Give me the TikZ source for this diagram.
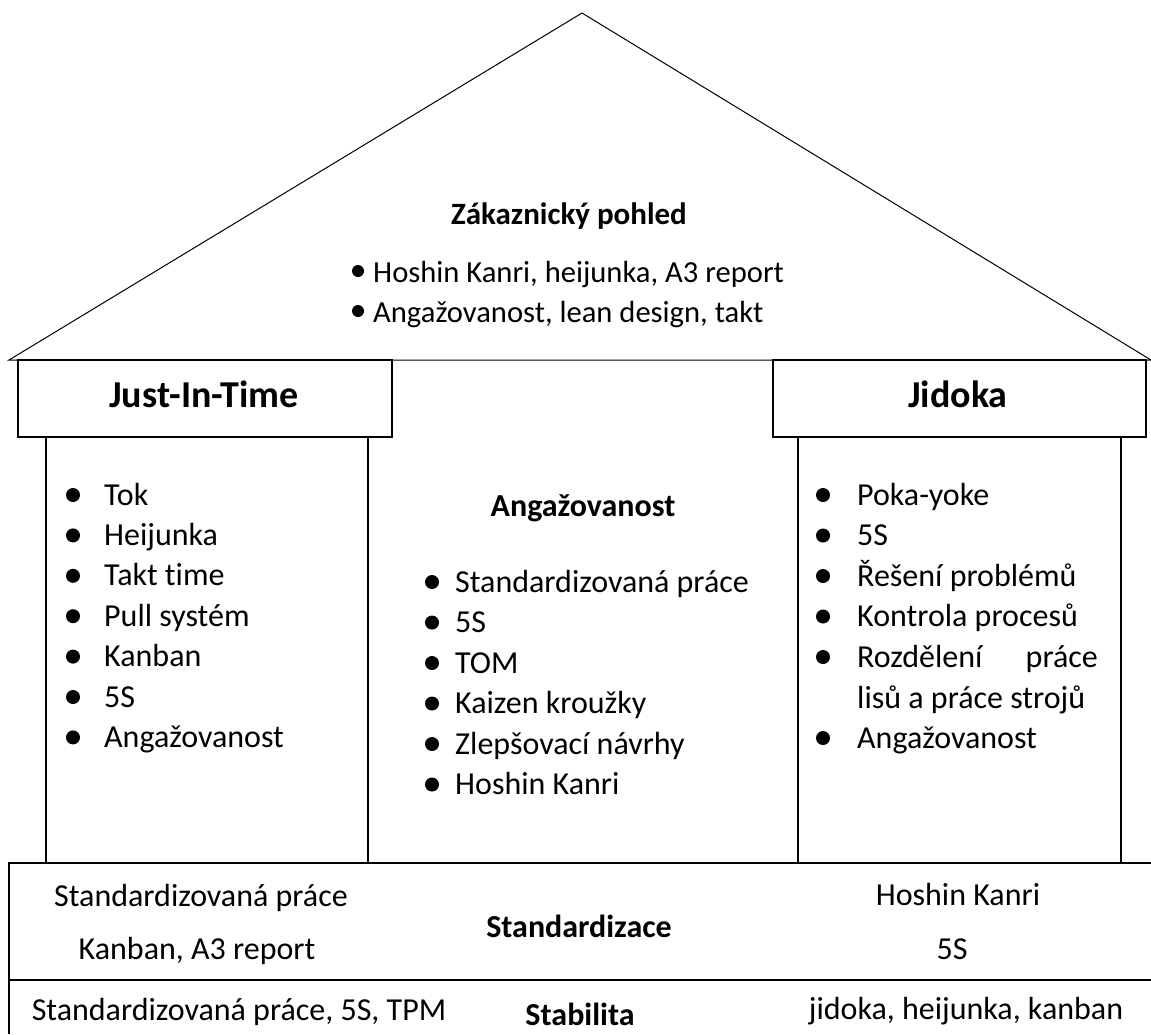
\documentclass[tikz,border=0pt]{standalone}
\usepackage{fontspec}
\setmainfont{Carlito}[Ligatures=NoCommon]
\usepackage{tikz}
\newcommand{\listfont}{\fontsize{32}{38}\selectfont}
\newcommand{\rooffont}{\fontsize{30.6}{36}\selectfont}
\newcommand{\capfont}{\fontsize{32}{38}\selectfont\bfseries}
\newcommand{\pillarfont}{\fontsize{38}{44}\selectfont\bfseries}
\tikzset{
    frame/.style={line width=1.3pt},
    roofline/.style={line width=1pt},
    item/.style={anchor=base west, inner sep=0pt, font=\listfont},
    centred/.style={anchor=base, inner sep=0pt, font=\listfont},
    head/.style={anchor=base, inner sep=0pt, font=\capfont},
    pillarhead/.style={anchor=base, inner sep=0pt, font=\pillarfont}
}

\begin{document}
\begin{tikzpicture}[x=1pt, y=-1pt]
    \useasboundingbox (0,0) rectangle (1151,1034);
    % roof
    \draw[roofline] (9,360) -- (582,13) -- (1151,360) -- cycle;
    \node[head, font=\fontsize{31}{36}\selectfont\bfseries] (roof) at (569,224) {Zákaznický pohled};
    \foreach \txt [count=\i from 0] in {{Hoshin Kanri, heijunka, A3 report}, {Angažovanost, lean design, takt}} {
        \fill (358,{282+40*\i-11}) circle (6pt);
        \node[item, font=\rooffont] (roof\i) at (373,{282+40*\i}) {\txt};
    }
    % pillar heads and columns
    \draw[frame] (18,360) rectangle (392,437);
    \draw[frame] (773,360) rectangle (1146,437);
    \node[pillarhead] (jit) at (204,407) {Just-In-Time};
    \node[pillarhead] (jidoka) at (958,407) {Jidoka};
    \draw[frame] (46,437) rectangle (368,863);
    \draw[frame] (798,437) rectangle (1121,863);
    % left pillar
    \foreach \txt [count=\i from 0] in {Tok, Heijunka, Takt time, Pull systém, Kanban, 5S, Angažovanost} {
        \fill (73,{505+40.4*\i-10}) circle (7pt);
        \node[item] (jit\i) at (104,{505+40.4*\i}) {\txt};
    }
    % middle
    \node[head] (mid) at (583,516) {Angažovanost};
    \foreach \txt [count=\i from 0] in {Standardizovaná práce, 5S, TOM, Kaizen kroužky, Zlepšovací návrhy, Hoshin Kanri} {
        \fill (432,{592+40.5*\i-10}) circle (7pt);
        \node[item] (mid\i) at (455,{592+40.5*\i}) {\txt};
    }
    % right pillar
    \foreach \k/\txt in {0/Poka-yoke, 1/5S, 2/Řešení problémů, 3/Kontrola procesů, 4/Rozdělení, 6/Angažovanost} {
        \fill (823,{505+40.5*\k-10}) circle (7pt);
        \node[item] (jid\k) at (857,{505+40.5*\k}) {\txt};
    }
    \node[item, anchor=base east] (jid4b) at (1098,667) {práce};
    \node[item] (jid5) at (857,708) {lisů a práce strojů};
    % base
    \draw[frame] (9,1034) -- (9,863) -- (1151,863);
    \draw[frame] (9,980) -- (1151,980);
    \node[centred] (std1) at (201,906) {Standardizovaná práce};
    \node[centred] (std2) at (197,959) {Kanban, A3 report};
    \node[head] (std) at (579,937) {Standardizace};
    \node[centred] (std3) at (958,905) {Hoshin Kanri};
    \node[centred] (std4) at (952,959) {5S};
    \node[centred] (stab1) at (239,1020) {Standardizovaná práce, 5S, TPM};
    \node[head] (stab) at (580,1025) {Stabilita};
    \node[centred] (stab2) at (966,1019) {jidoka, heijunka, kanban};
\end{tikzpicture}
\end{document}
